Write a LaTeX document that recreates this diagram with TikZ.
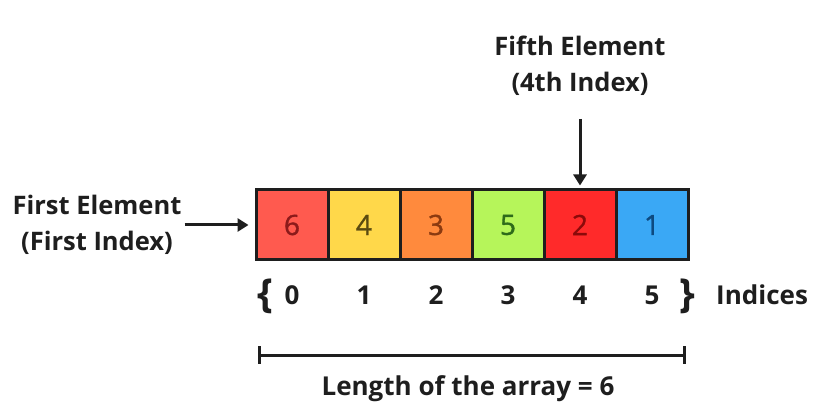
\documentclass[tikz,border=0pt]{standalone}
\usepackage{fontspec}
\setmainfont{Open Sans}
\newfontfamily\cellfont[FakeBold=1.2]{Open Sans}
\usetikzlibrary{arrows.meta}
\definecolor{cA}{HTML}{FF5A4F}\definecolor{tA}{HTML}{8B1A1A}
\definecolor{cB}{HTML}{FFD84A}\definecolor{tB}{HTML}{5A4A10}
\definecolor{cC}{HTML}{FF8A3D}\definecolor{tC}{HTML}{8B3A10}
\definecolor{cD}{HTML}{B6F55A}\definecolor{tD}{HTML}{2E6B1A}
\definecolor{cE}{HTML}{FF2A2A}\definecolor{tE}{HTML}{8B0A0A}
\definecolor{cF}{HTML}{3AA8F5}\definecolor{tF}{HTML}{0D4A80}
\definecolor{ink}{HTML}{1E1E1E}
\tikzset{
  cell/.style={draw=ink, line width=3pt, minimum width=72pt, minimum height=70pt, inner sep=0pt, font=\cellfont\fontsize{28}{30}\selectfont},
  lbl/.style={font=\bfseries\fontsize{25.5}{36}\selectfont, text=ink, align=center, inner sep=2pt},
  idx/.style={font=\bfseries\fontsize{26}{28}\selectfont, text=ink, inner sep=0pt},
  arr/.style={line width=3pt, draw=ink, -{Triangle[length=11pt,width=13pt]}},
}
\begin{document}
\begin{tikzpicture}[x=1pt,y=-1pt]
\useasboundingbox (0,0) rectangle (814,403);
\fill[white] (0,0) rectangle (814,403);
% cells
\node[cell, fill=cA, text=tA] (c0) at (292,225) {6};
\node[cell, fill=cB, text=tB] (c1) at (364,225) {4};
\node[cell, fill=cC, text=tC] (c2) at (436,225) {3};
\node[cell, fill=cD, text=tD] (c3) at (508,225) {5};
\node[cell, fill=cE, text=tE] (c4) at (580,225) {2};
\node[cell, fill=cF, text=tF] (c5) at (652,225) {1};
% labels
\node[lbl] (first) at (97,225) {First Element\\(First Index)};
\node[lbl] (fifth) at (580,66) {Fifth Element\\(4th Index)};
\draw[arr, shorten <=1pt, shorten >=6pt] (first.east |- c0.west) -- (c0.west);
\draw[arr, shorten <=21pt, shorten >=3pt] (fifth.south -| c4.north) -- (c4.north);
% indices
\node[idx, font=\bfseries\fontsize{40}{42}\selectfont] (lb) at (265,296) {\{};
\node[idx] (i0) at (292,295) {0};
\node[idx] (i1) at (364,295) {1};
\node[idx] (i2) at (436,295) {2};
\node[idx] (i3) at (508,295) {3};
\node[idx] (i4) at (580,295) {4};
\node[idx] (i5) at (652,295) {5};
\node[idx, font=\bfseries\fontsize{40}{42}\selectfont] (rb) at (687,296) {\}};
\node[idx, anchor=west] (ind) at (716,295) {Indices};
% length
\coordinate (la) at (258,355);
\coordinate (lz) at (686,355);
\draw[line width=3pt, draw=ink, {Bar[width=17pt,line width=3pt]}-{Bar[width=17pt,line width=3pt]}] (la) -- (lz);
\node[idx] (len) at (468,389) {Length of the array = 6};
\end{tikzpicture}
\end{document}
